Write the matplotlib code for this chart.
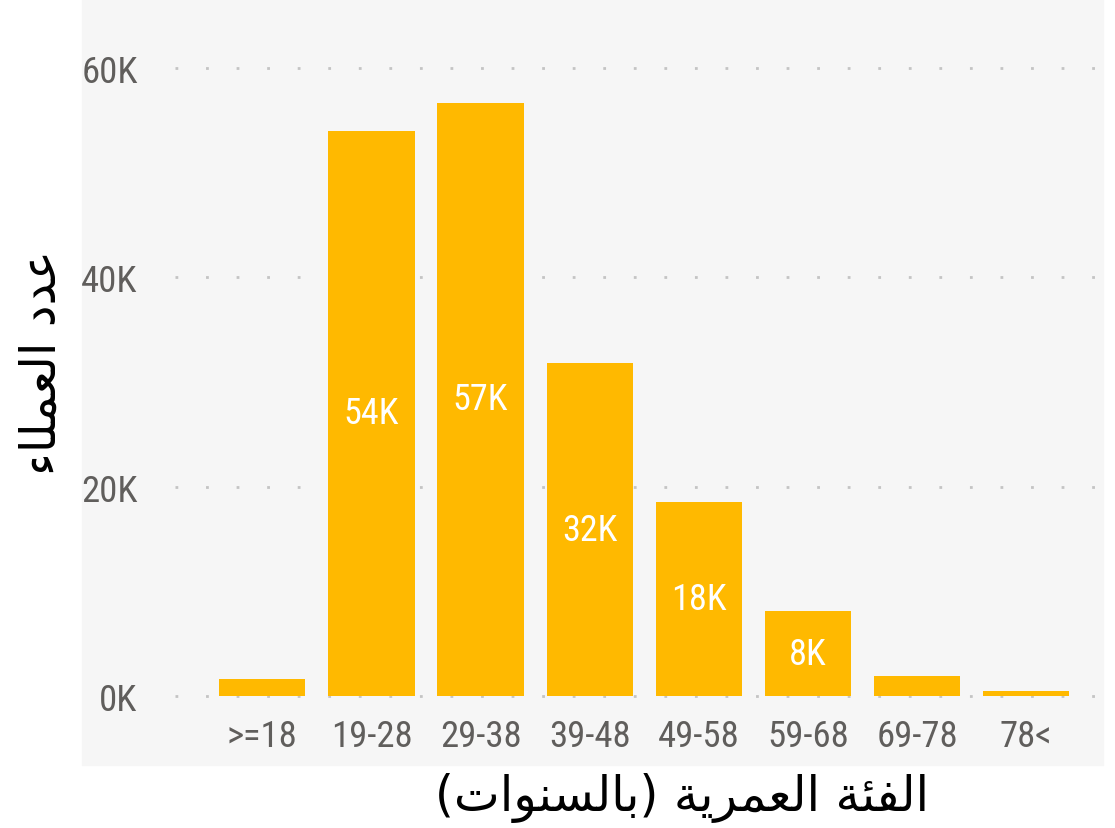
import matplotlib
matplotlib.use("Agg")
import matplotlib.pyplot as plt
from matplotlib import font_manager
from matplotlib.patches import Rectangle
from matplotlib.ticker import FuncFormatter

categories = [">=18", "19-28", "29-38", "39-48", "49-58", "59-68", "69-78", "78<"]
customers = [1600, 54000, 56700, 31800, 18500, 8100, 1900, 500]
bar_labels = ["", "54K", "57K", "32K", "18K", "8K", "", ""]
y_ticks = [0, 20000, 40000, 60000]

y_title = "عدد العملاء"
x_title = "الفئة العمرية (بالسنوات)"

YELLOW = "#FFB900"
GREY_TXT = "#605E5C"
PANEL = "#F6F6F6"


def pick_narrow_font():
    # a narrow sans like the power bi labels, whatever is on the box
    fonts = font_manager.fontManager.ttflist
    for want in ["Liberation Sans Narrow", "Roboto Condensed", "Open Sans Condensed"]:
        for f in fonts:
            if f.name == want and f.weight in (400, "normal", "regular") and f.style == "normal":
                return font_manager.FontProperties(fname=f.fname)
    for f in fonts:
        if f.name == "DejaVu Sans" and "condensed" in str(f.stretch) and f.style == "normal" \
                and f.weight in (400, "normal"):
            return font_manager.FontProperties(fname=f.fname)
    return font_manager.FontProperties(family="Roboto")


TICK_FP = pick_narrow_font()

# matplotlib has no arabic shaping, so pick the contextual forms by hand
# letter: (isolated, final, initial, medial) ; 2-tuples only join to the right
FORMS = {
    "ا": (0xFE8D, 0xFE8E), "ة": (0xFE93, 0xFE94), "د": (0xFEA9, 0xFEAA),
    "ر": (0xFEAD, 0xFEAE), "و": (0xFEED, 0xFEEE), "ء": (0xFE80,),
    "ب": (0xFE8F, 0xFE90, 0xFE91, 0xFE92), "ت": (0xFE95, 0xFE96, 0xFE97, 0xFE98),
    "س": (0xFEB1, 0xFEB2, 0xFEB3, 0xFEB4), "ع": (0xFEC9, 0xFECA, 0xFECB, 0xFECC),
    "ف": (0xFED1, 0xFED2, 0xFED3, 0xFED4), "ل": (0xFEDD, 0xFEDE, 0xFEDF, 0xFEE0),
    "م": (0xFEE1, 0xFEE2, 0xFEE3, 0xFEE4), "ن": (0xFEE5, 0xFEE6, 0xFEE7, 0xFEE8),
    "ي": (0xFEF1, 0xFEF2, 0xFEF3, 0xFEF4), "ئ": (0xFE89, 0xFE8A, 0xFE8B, 0xFE8C),
}


def shape_arabic(text):
    out = []
    for i, ch in enumerate(text):
        f = FORMS.get(ch)
        if f is None:
            out.append(ch)
            continue
        prev = FORMS.get(text[i - 1]) if i > 0 else None
        nxt = FORMS.get(text[i + 1]) if i + 1 < len(text) else None
        jp = prev is not None and len(prev) == 4 and len(f) > 1
        jn = len(f) == 4 and nxt is not None and len(nxt) > 1
        if jp and jn:
            out.append(chr(f[3]))
        elif jp:
            out.append(chr(f[1]))
        elif jn:
            out.append(chr(f[2]))
        else:
            out.append(chr(f[0]))
    vis = "".join(out)[::-1]
    return vis.translate(str.maketrans("()", ")("))


fig = plt.figure(figsize=(11.15, 8.29), dpi=100)
fig.patches.append(Rectangle((82 / 1115, 1 - 766 / 829), (1103 - 82) / 1115, 766 / 829,
                             transform=fig.transFigure, color=PANEL, zorder=-10))

ax = fig.add_axes([175 / 1115, 132 / 829, 920 / 1115, 628 / 829])
ax.set_facecolor("none")
x = list(range(len(categories)))
bars = ax.bar(x, customers, width=0.79, color=YELLOW, zorder=3)

ax.set_xlim(-0.8, 7.63)
ax.set_ylim(0, 60000)
ax.set_yticks(y_ticks)
ax.yaxis.set_major_formatter(FuncFormatter(lambda v, p: f"{int(v / 1000)}K"))
ax.set_xticks(x)
ax.set_xticklabels(categories)
for side in ax.spines.values():
    side.set_visible(False)
ax.tick_params(length=0, colors=GREY_TXT)
ax.tick_params(axis="y", pad=27)
ax.tick_params(axis="x", pad=16)
for lab in ax.get_xticklabels() + ax.get_yticklabels():
    lab.set_fontproperties(TICK_FP)
    lab.set_fontsize(26.5)
ax.grid(axis="y", color="#C4C4C4", linestyle=(0, (1, 10)), linewidth=2, zorder=1)
for g in ax.get_ygridlines():
    g.set_clip_on(False)

for b, lab in zip(bars, bar_labels):
    if lab:
        t = ax.text(b.get_x() + b.get_width() / 2, b.get_height() / 2, lab, ha="center", va="center",
                    color="white", zorder=4, fontproperties=TICK_FP)
        t.set_fontsize(26)

fig.text(42 / 1115, 1 - 362 / 829, shape_arabic(y_title), rotation=90, ha="center", va="center",
         fontsize=35, fontfamily="DejaVu Sans", color="black")
fig.text(682 / 1115, 1 - 798 / 829, shape_arabic(x_title), ha="center", va="center",
         fontsize=35, fontfamily="DejaVu Sans", color="black")

fig.savefig("out.png", dpi=100)
